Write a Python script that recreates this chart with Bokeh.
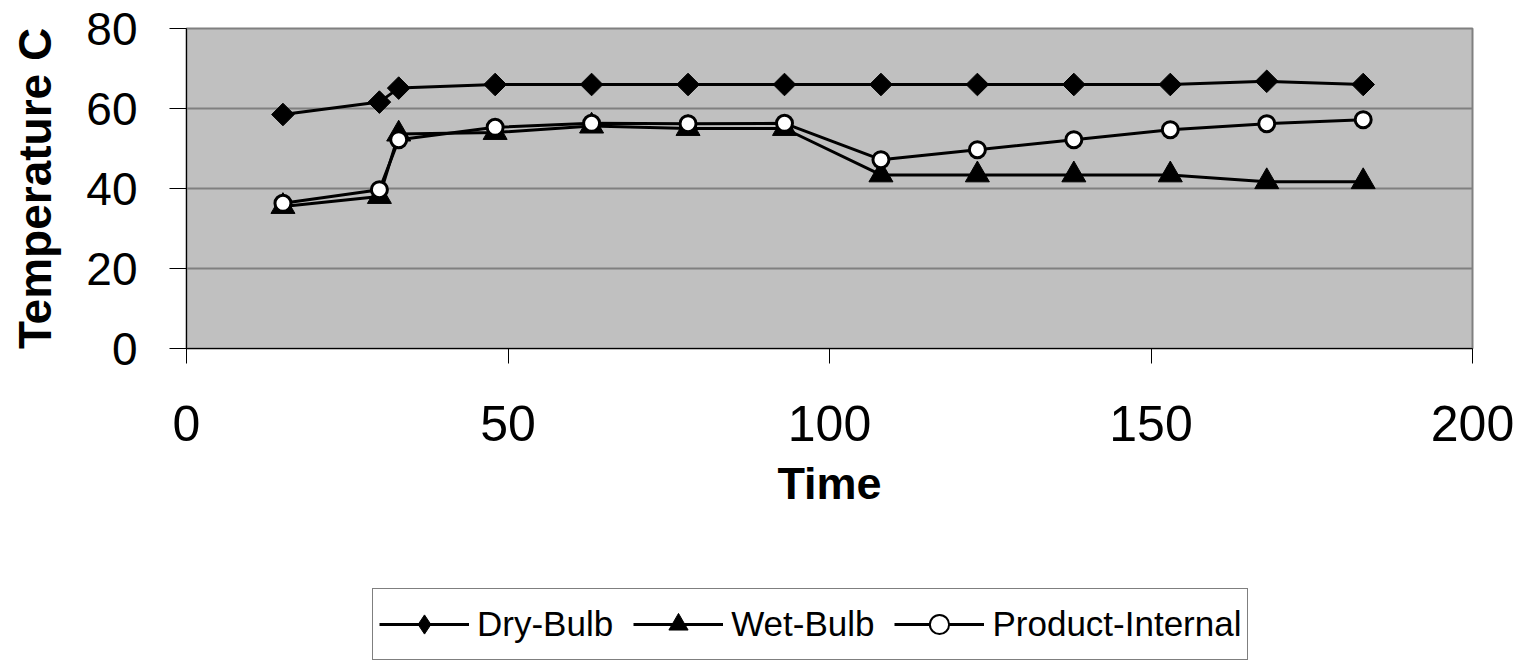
import math
from bokeh.plotting import figure
from bokeh.layouts import column
from bokeh.models import Range1d, Legend, LegendItem, FixedTicker
from bokeh.embed import file_html
from bokeh.resources import INLINE

time = [15, 30, 33, 48, 63, 78, 93, 108, 123, 138, 153, 168, 183]
dry_bulb = [58.5, 61.6, 65.1, 66, 66, 66, 66, 66, 66, 66, 66, 66.8, 66]
wet_bulb = [35.5, 38, 53.6, 54, 55.6, 55, 55, 43.4, 43.4, 43.4, 43.4, 41.7, 41.7]
product_internal = [36.3, 39.7, 52.2, 55.3, 56.3, 56.2, 56.3, 47.2, 49.7, 52.2, 54.7, 56.2, 57.2]
series_names = ["Dry-Bulb", "Wet-Bulb", "Product-Internal"]

x_ticks = [0, 50, 100, 150, 200]
y_ticks = [0, 20, 40, 60, 80]

FONT = "Liberation Sans"

p = figure(width=1527, height=580, output_backend="svg", toolbar_location=None,
           x_range=Range1d(0, 200), y_range=Range1d(0, 80),
           min_border_left=186, min_border_right=55, min_border_top=28, min_border_bottom=232)

p.background_fill_color = "#C0C0C0"
p.border_fill_color = "white"
p.outline_line_color = "#808080"
p.outline_line_width = 2

p.xgrid.visible = False
p.ygrid.grid_line_color = "#808080"
p.ygrid.grid_line_width = 2

p.xaxis.ticker = FixedTicker(ticks=x_ticks)
p.yaxis.ticker = FixedTicker(ticks=y_ticks)
for ax in (p.xaxis[0], p.yaxis[0]):
    ax.axis_line_color = "black"
    ax.axis_line_width = 1
    ax.major_tick_line_color = "black"
    ax.minor_tick_line_color = None
    ax.major_tick_in = 0
    ax.major_label_text_font = FONT
    ax.major_label_text_color = "black"
    ax.axis_label_text_font = FONT
    ax.axis_label_text_font_style = "bold"
    ax.axis_label_text_color = "black"

p.xaxis.major_tick_out = 15
p.yaxis.major_tick_out = 17
p.xaxis.major_label_text_font_size = "50px"
p.yaxis.major_label_text_font_size = "46px"
p.xaxis.major_label_standoff = 42
p.yaxis.major_label_standoff = 32
p.xaxis.axis_label = "Time"
p.yaxis.axis_label = "Temperature C"
p.xaxis.axis_label_text_font_size = "45px"
p.yaxis.axis_label_text_font_size = "46px"
p.xaxis.axis_label_standoff = 14
p.yaxis.axis_label_standoff = 22

STYLES = [
    dict(marker="square", angle=math.pi / 4, size=16, fill_color="black", line_color="black", line_width=1),
    dict(marker="triangle", angle=0, size=24, fill_color="black", line_color="black", line_width=1),
    dict(marker="circle", angle=0, size=16, fill_color="white", line_color="black", line_width=3),
]
LEGEND_MARKERS = ["diamond", "triangle", "circle"]
SERIES = [dry_bulb, wet_bulb, product_internal]

for ys, st in zip(SERIES, STYLES):
    p.line(time, ys, line_color="black", line_width=3)
    p.scatter(time, ys, **st)

# legend panel underneath: same series drawn out of view, used only as legend proxies
p2 = figure(width=1527, height=80, output_backend="svg", toolbar_location=None,
            x_range=Range1d(-1000, -999), y_range=Range1d(-1000, -999),
            x_axis_location=None, y_axis_location=None,
            min_border_left=0, min_border_right=0, min_border_top=0, min_border_bottom=0)
p2.outline_line_color = None
p2.grid.visible = False
p2.background_fill_color = "white"

items = []
for name, ys, st, lm in zip(series_names, SERIES, STYLES, LEGEND_MARKERS):
    lr = p2.line(time, ys, line_color="black", line_width=3)
    sc = dict(st)
    sc["marker"] = lm
    sc["angle"] = 0
    if lm == "circle":
        sc["line_width"] = 2
    mr = p2.scatter(time, ys, **sc)
    items.append(LegendItem(label=name, renderers=[lr, mr]))

legend = Legend(items=items, location=(186, 0), orientation="horizontal")
legend.label_text_font = FONT
legend.label_text_font_size = "35px"
legend.label_text_color = "black"
legend.glyph_width = 90
legend.glyph_height = 48
legend.label_height = 58
legend.label_standoff = 8
legend.spacing = 20
legend.padding = 6
legend.margin = 0
legend.border_line_color = "black"
legend.border_line_width = 1
legend.background_fill_color = "white"
legend.background_fill_alpha = 1
p2.add_layout(legend, "center")

open("out.html", "w").write(file_html(column(p, p2, spacing=0), INLINE))
